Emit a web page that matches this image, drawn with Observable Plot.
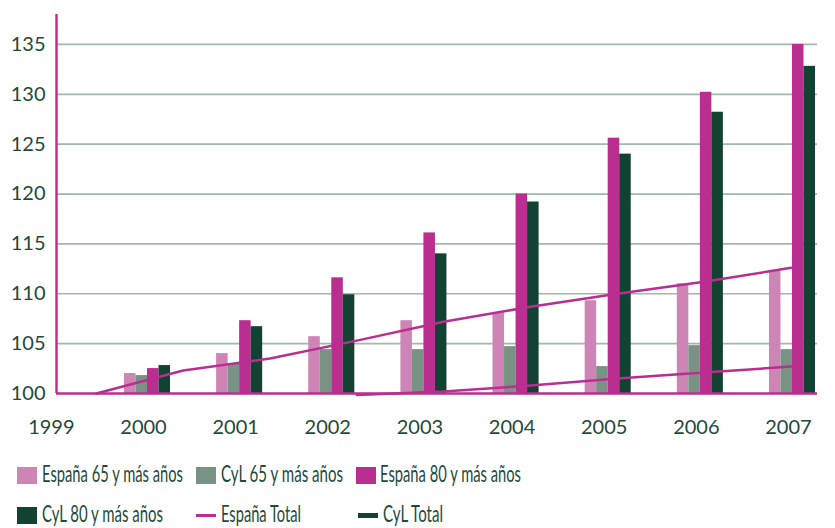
<!DOCTYPE html>
<html><head><meta charset="utf-8">
<script src="https://cdn.jsdelivr.net/npm/d3@7"></script>
<script src="https://cdn.jsdelivr.net/npm/@observablehq/plot@0.6"></script>
<style>
body{margin:0;background:#fff;}
#wrap{position:relative;width:835px;height:528px;font-family:Lato,"Open Sans",sans-serif;color:#1d4a3a;overflow:hidden;}
#wrap svg{position:absolute;left:0;top:0;}
.sw{position:absolute;}
.lbl{position:absolute;font-size:24px;line-height:28px;white-space:nowrap;transform-origin:0 0;}
</style></head><body><div id="wrap"></div>
<script>
const years = [1999, 2000, 2001, 2002, 2003, 2004, 2005, 2006, 2007];
const espana65 = [100, 102.0, 104.0, 105.7, 107.3, 108.1, 109.3, 111.0, 112.3];
const cyl65    = [100, 101.8, 103.0, 104.4, 104.4, 104.7, 102.7, 104.8, 104.4];
const espana80 = [100, 102.5, 107.3, 111.6, 116.1, 120.0, 125.6, 130.2, 135.0];
const cyl80    = [100, 102.8, 106.7, 109.9, 114.0, 119.2, 124.0, 128.2, 132.8];
const espanaTotal = [100, 102.3, 103.5, 105.3, 107.2, 108.7, 110.0, 111.2, 112.6];
const cylTotal    = [null, null, null, 99.85, 100.2, 100.8, 101.5, 102.1, 102.7];
const yTicks = [100, 105, 110, 115, 120, 125, 130, 135];
const barNames = ["España 65 y más años", "CyL 65 y más años", "España 80 y más años", "CyL 80 y más años"];
const lineNames = ["España Total", "CyL Total"];
const barColors = ["#cf84b6", "#789384", "#b92e8e", "#124332"];
const lineColors = ["#b92e8e", "#124332"];
const lineDrawColor = "#b92e8e";

const barSeries = [espana65, cyl65, espana80, cyl80];
const bars = [];
years.forEach((yr, i) => barSeries.forEach((vals, s) => {
  bars.push({year: yr, s, name: barNames[s], value: vals[i]});
}));
const BW = 0.125;
// line series are drawn on a slightly compressed category axis (as in the original)
const lineX = yr => 1999.445 + (yr - 1999) * 0.9425;
const lines = [];
[espanaTotal, cylTotal].forEach((vals, s) => years.forEach((yr, i) => {
  if (vals[i] != null) lines.push({year: yr, s, name: lineNames[s], value: vals[i]});
}));

const x0 = 1999.0124, x1 = 2007.2716;
const textColor = "#1d4a3a";

const chart = Plot.plot({
  width: 835, height: 448,
  marginLeft: 56, marginRight: 18, marginTop: 14, marginBottom: 55,
  style: {fontFamily: "Lato, 'Open Sans', sans-serif", fontSize: "20px", color: textColor, background: "transparent"},
  x: {type: "linear", domain: [x0, x1], axis: null},
  y: {domain: [100, 138], axis: null},
  marks: [
    Plot.ruleY(yTicks.slice(1), {stroke: "#a2b7ad", strokeWidth: 1.7}),
    Plot.rectY(bars, {
      x1: d => d.year - 2 * BW + d.s * BW,
      x2: d => d.year - BW + d.s * BW,
      y1: 100, y2: "value",
      fill: d => barColors[d.s], insetLeft: 0, insetRight: 0
    }),
    Plot.line(lines, {x: d => lineX(d.year), y: "value", z: "name", stroke: lineDrawColor, strokeWidth: 2.5}),
    Plot.ruleY([100], {stroke: "#b92e8e", strokeWidth: 2.6}),
    Plot.ruleX([x0], {y1: 100, y2: 138, stroke: "#b92e8e", strokeWidth: 2.4}),
    Plot.axisY(yTicks, {tickSize: 0, tickPadding: 11, fontSize: 20, fill: textColor, label: null}),
    Plot.axisX(years, {tickSize: 0, tickPadding: 26, fontSize: 20, fill: textColor, label: null, tickFormat: d => String(d), dx: -4})
  ]
});
const wrap = document.getElementById("wrap");
wrap.appendChild(chart);

// legend
const legendItems = [
  {kind: "rect", color: barColors[0], text: barNames[0], sx: 17, tx: 42, row: 0, w: 141},
  {kind: "rect", color: barColors[1], text: barNames[1], sx: 196, tx: 221, row: 0, w: 122},
  {kind: "rect", color: barColors[2], text: barNames[2], sx: 356, tx: 380, row: 0, w: 141},
  {kind: "rect", color: barColors[3], text: barNames[3], sx: 17, tx: 42, row: 1, w: 121},
  {kind: "line", color: lineColors[0], text: lineNames[0], sx: 196, tx: 221, row: 1, w: 80, lh: 3.5},
  {kind: "line", color: lineColors[1], text: lineNames[1], sx: 358, tx: 383, row: 1, w: 60, lh: 4.5}
];
const rowTop = [467, 507];
legendItems.forEach(it => {
  const sw = document.createElement("div");
  sw.className = "sw";
  sw.style.background = it.color;
  sw.style.left = it.sx + "px";
  sw.style.width = "20px";
  if (it.kind === "rect") {
    sw.style.top = rowTop[it.row] + "px";
    sw.style.height = "17px";
  } else {
    sw.style.top = (rowTop[it.row] + 8.5 - it.lh / 2) + "px";
    sw.style.height = it.lh + "px";
  }
  wrap.appendChild(sw);
  const t = document.createElement("span");
  t.className = "lbl";
  t.textContent = it.text;
  t.style.left = it.tx + "px";
  t.style.top = (rowTop[it.row] - 8) + "px";
  wrap.appendChild(t);
  const w = t.getBoundingClientRect().width;
  if (w > 0) t.style.transform = `scaleX(${it.w / w})`;
});
</script>
</body></html>
